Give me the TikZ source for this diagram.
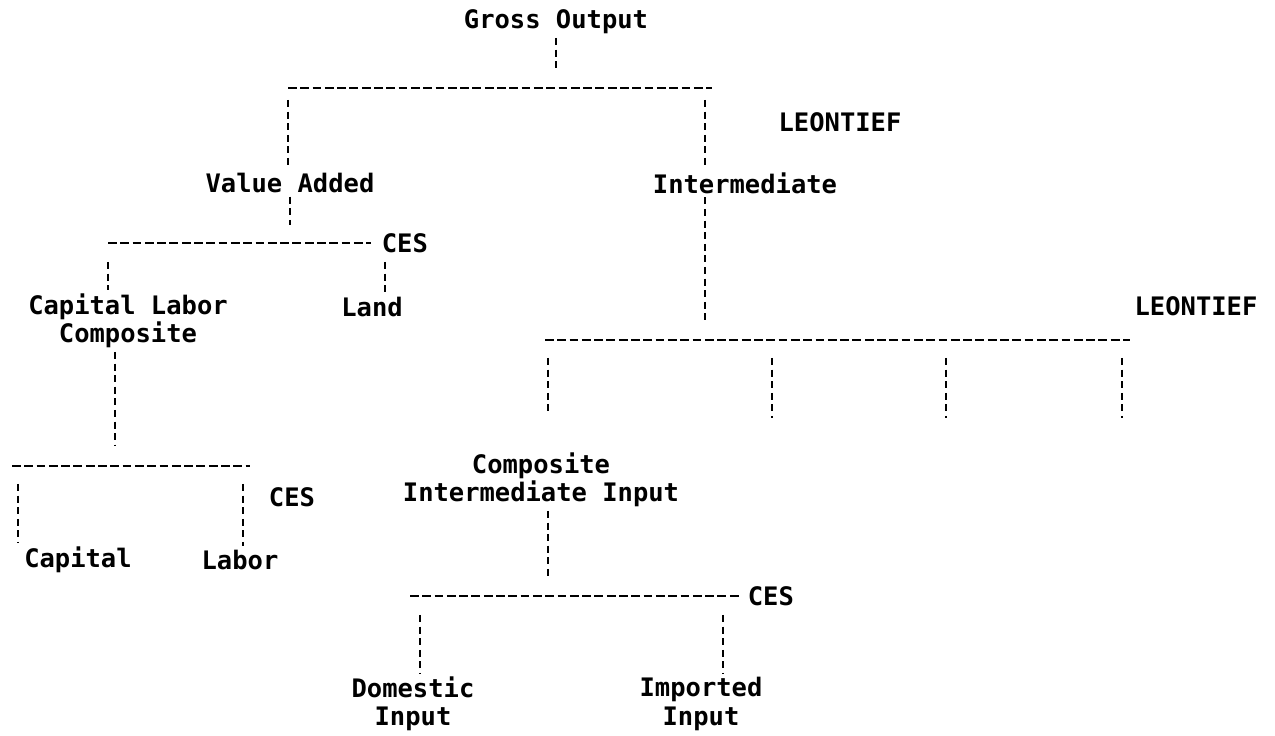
\documentclass[tikz,border=0pt]{standalone}
\usepackage{fontspec}
\setmainfont{DejaVu Sans Mono}
\usetikzlibrary{positioning, calc}

\begin{document}
\begin{tikzpicture}[
    x=0.02cm, y=-0.02cm,
    lbl/.style={font=\fontsize{14.5}{16}\selectfont\bfseries, align=center, inner sep=2pt},
    hdash/.style={line width=1.6pt, dash pattern=on 5pt off 2pt},
    vdash/.style={line width=1.6pt, dash pattern=on 4pt off 2.6pt},
]
    \useasboundingbox (0,0) rectangle (1275,736);

    % Gross output and its split
    \node[lbl] (gross) at (556,22) {Gross Output};
    \coordinate (t0) at (556,88);
    \coordinate (tl) at (288,88);
    \coordinate (tri) at (705,88);
    \coordinate (tr) at (712,88);
    \draw[hdash] (tl) -- (tr);
    \draw[vdash, shorten >=0.38cm] (gross) -- (t0);
    \node[lbl] (leon1) at (840,122) {LEONTIEF};

    \node[lbl] (va) at (290,183) {Value Added};
    \node[lbl] (inter) at (745,183) {Intermediate};
    \draw[vdash, shorten <=0.24cm] (tl) -- (tl |- va.north);
    \draw[vdash, shorten <=0.24cm] (tri) -- (tri |- inter.north);

    % Value added nest
    \coordinate (v0) at (290,243);
    \coordinate (vl) at (108,243);
    \coordinate (vr) at (385,243);
    \node[lbl, anchor=west] (ces1) at (378,243) {CES};
    \draw[hdash, shorten >=0.14cm] (vl) -- (ces1.west);
    \draw[vdash, shorten >=0.36cm] (va) -- (v0);
    \node[lbl] (clc) at (128,321) {Capital Labor\\Composite};
    \node[lbl] (land) at (372,307) {Land};
    \draw[vdash, shorten <=0.38cm] (vl) -- (vl |- clc.north);
    \draw[vdash, shorten <=0.38cm] (vr) -- (vr |- land.north);

    % Capital labor nest
    \coordinate (c0) at (115,466);
    \coordinate (cl) at (12,466);
    \coordinate (cr) at (250,466);
    \draw[hdash] (cl) -- (cr);
    \draw[vdash, shorten >=0.4cm] (clc.south -| c0) -- (c0);
    \node[lbl] (capital) at (78,560) {Capital};
    \node[lbl] (labor) at (240,560) {Labor};
    \node[lbl] (ces2) at (292,497) {CES};
    \draw[vdash, shorten <=0.36cm] (18,466) coordinate (cll) -- (cll |- capital.north);
    \draw[vdash, shorten <=0.36cm] (243,466) coordinate (clr) -- (clr |- labor.north);

    % Intermediate nest
    \coordinate (m0) at (705,340);
    \coordinate (ml) at (545,340);
    \coordinate (mr) at (1130,340);
    \draw[hdash] (ml) -- (mr);
    \draw[vdash, shorten >=0.4cm] (inter.south -| m0) -- (m0);
    \node[lbl] (leon2) at (1196,306) {LEONTIEF};
    \node[lbl] (cii) at (541,480) {Composite\\Intermediate Input};
    \draw[vdash, shorten <=0.36cm, shorten >=0.7cm] (548,340) coordinate (m1) -- (m1 |- cii.north);
    \foreach \xx/\nm in {772/m2, 946/m3, 1122/m4} {
        \coordinate (\nm) at (\xx,340);
        \coordinate (\nm-end) at (\xx,418);
        \draw[vdash, shorten <=0.36cm] (\nm) -- (\nm-end);
    }

    % Composite intermediate nest
    \coordinate (k0) at (548,596);
    \coordinate (kl) at (410,596);
    \node[lbl, anchor=west] (ces3) at (744,596) {CES};
    \draw[hdash, shorten >=0.1cm] (kl) -- (ces3.west);
    \draw[vdash, shorten >=0.36cm] (cii.south -| k0) -- (k0);
    \node[lbl] (dom) at (413,704) {Domestic\\Input};
    \node[lbl] (imp) at (701,704) {Imported\\Input};
    \draw[vdash, shorten <=0.38cm] (420,596) coordinate (kd) -- (kd |- dom.north);
    \draw[vdash, shorten <=0.38cm] (723,596) coordinate (ki) -- (ki |- imp.north);
\end{tikzpicture}
\end{document}
